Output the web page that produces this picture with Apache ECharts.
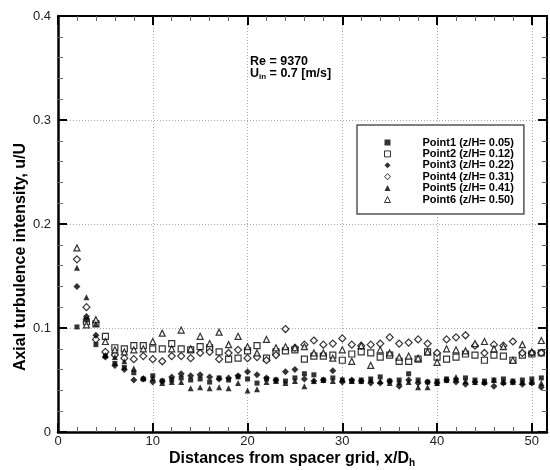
<!DOCTYPE html>
<html>
<head>
<meta charset="utf-8">
<script src="https://cdn.jsdelivr.net/npm/echarts@6/dist/echarts.min.js"></script>
<style>html,body{margin:0;padding:0;background:#fff;}#c{width:550px;height:470px;}</style>
</head>
<body>
<div id="c"></div>
<script>
const xPositions = [2,3,4,5,6,7,8,9,10,11,12,13,14,15,16,17,18,19,20,21,22,23,24,25,26,27,28,29,30,31,32,33,34,35,36,37,38,39,40,41,42,43,44,45,46,47,48,49,50,51];

const point1 = [0.101,0.108,0.084,0.073,0.066,0.062,0.057,0.051,0.054,0.049,0.050,0.052,0.050,0.051,0.048,0.052,0.050,0.053,0.051,0.047,0.051,0.050,0.049,0.052,0.056,0.055,0.050,0.052,0.050,0.049,0.050,0.051,0.053,0.049,0.050,0.056,0.050,0.048,0.049,0.051,0.050,0.052,0.050,0.049,0.050,0.051,0.049,0.050,0.051,0.052];
const point2 = [null,0.106,0.104,0.092,0.081,0.080,0.083,0.083,0.080,0.080,0.085,0.080,0.079,0.082,0.081,0.077,0.070,0.071,0.078,0.083,0.071,0.077,0.078,0.079,0.070,0.073,0.073,0.074,0.069,0.075,0.077,0.076,0.072,0.074,0.068,0.068,0.070,0.077,0.072,0.070,0.072,0.075,0.074,0.069,0.074,0.073,0.069,0.074,0.075,0.076];
const point3 = [0.140,0.111,0.093,0.072,0.064,0.060,0.050,0.051,0.048,0.049,0.053,0.056,0.054,0.055,0.053,0.051,0.052,0.054,0.058,0.055,0.052,0.050,0.058,0.060,0.051,0.049,0.050,0.059,0.048,0.050,0.049,0.047,0.047,0.049,0.044,0.050,0.047,0.048,0.047,0.050,0.048,0.046,0.048,0.047,0.044,0.047,0.048,0.046,0.047,0.043];
const point4 = [0.166,0.120,0.089,0.077,0.074,0.071,0.070,0.073,0.070,0.068,0.073,0.073,0.071,0.076,0.077,0.070,0.076,0.079,0.071,0.072,0.069,0.074,0.099,0.081,0.084,0.088,0.084,0.085,0.090,0.084,0.083,0.084,0.085,0.091,0.085,0.086,0.089,0.085,0.076,0.089,0.091,0.093,0.083,0.076,0.084,0.083,0.087,0.076,0.076,0.076];
const point5 = [0.158,0.1295,0.104,0.074,0.072,0.068,0.061,0.052,0.052,0.047,0.048,0.048,0.042,0.043,0.042,0.043,0.042,0.047,0.040,0.041,0.048,0.049,0.047,0.049,0.044,0.049,0.050,0.049,0.051,0.049,0.049,0.050,0.049,0.047,0.048,0.048,0.043,0.043,0.047,0.050,0.053,0.049,0.048,0.048,0.050,0.048,0.048,0.048,0.048,0.047];
const point6 = [0.177,0.103,0.108,0.087,0.079,0.077,0.079,0.080,0.087,0.095,0.080,0.098,0.080,0.092,0.085,0.096,0.084,0.092,0.082,0.076,0.089,0.081,0.082,0.081,0.082,0.076,0.076,0.071,0.079,0.068,0.083,0.064,0.079,0.076,0.072,0.073,0.071,0.077,0.067,0.080,0.079,0.078,0.085,0.087,0.080,0.082,0.069,0.084,0.077,0.088];

const seriesNames = ['Point1 (z/H= 0.05)','Point2 (z/H= 0.12)','Point3 (z/H= 0.22)','Point4 (z/H= 0.31)','Point5 (z/H= 0.41)','Point6 (z/H= 0.50)'];
const seriesValues = [point1, point2, point3, point4, point5, point6];
const symbols = ['rect','rect','diamond','diamond','triangle','triangle'];
const filled = [true,false,true,false,true,false];
const sizes = [5,6,7,7,6,6];

const xTicks = [0,10,20,30,40,50];
const yTicks = [0,0.1,0.2,0.3,0.4];

const FONT = "'Liberation Sans', Arial, sans-serif";

const series = seriesValues.map((vals, i) => ({
  type: 'scatter',
  name: seriesNames[i],
  symbol: symbols[i],
  symbolSize: sizes[i],
  data: vals.map((v, k) => [xPositions[k], v]).filter(p => p[1] !== null),
  itemStyle: filled[i] ? {color: '#000', borderWidth: 0} : {color: '#fff', borderColor: '#000', borderWidth: 1.2},
  emphasis: {disabled: true},
  z: filled[i] ? 4 : 3
}));

const baseTick = {show: true, inside: true, length: 9, lineStyle: {color: '#000', width: 2}};
const minor = {show: true, splitNumber: 5, length: 5, lineStyle: {color: '#666', width: 1}};

const chart = echarts.init(document.getElementById('c'), null, {renderer: 'canvas'});
chart.setOption({
  animation: false,
  backgroundColor: '#fff',
  grid: {left: 58, right: 1, top: 16, bottom: 38, containLabel: false},
  xAxis: [{
    type: 'value', min: 0, max: 51.6, interval: 10, position: 'bottom',
    axisLine: {show: true, onZero: false, lineStyle: {color: '#000', width: 2.5}},
    axisTick: baseTick, minorTick: minor,
    axisLabel: {show: true, margin: 3, fontFamily: FONT, fontSize: 13, color: '#222',
      formatter: v => (xTicks.indexOf(v) >= 0 ? String(v) : '')},
    splitLine: {show: true, lineStyle: {color: '#aaa', type: [1, 2], width: 1}}
  }, {
    type: 'value', min: 0, max: 51.6, interval: 10, position: 'top',
    axisLine: {show: true, onZero: false, lineStyle: {color: '#000', width: 2}},
    axisTick: baseTick, minorTick: minor,
    axisLabel: {show: false}, splitLine: {show: false}
  }],
  yAxis: [{
    type: 'value', min: 0, max: 0.4, interval: 0.1, position: 'left',
    axisLine: {show: true, onZero: false, lineStyle: {color: '#000', width: 2.5}},
    axisTick: baseTick, minorTick: minor,
    axisLabel: {show: true, margin: 7, fontFamily: FONT, fontSize: 13, color: '#222',
      formatter: v => {const t = yTicks.find(y => Math.abs(y - v) < 1e-9); return t === undefined ? '' : String(t);}},
    splitLine: {show: true, lineStyle: {color: '#aaa', type: [1, 2], width: 1}}
  }, {
    type: 'value', min: 0, max: 0.4, interval: 0.1, position: 'right',
    axisLine: {show: true, onZero: false, lineStyle: {color: '#000', width: 2}},
    axisTick: baseTick, minorTick: minor,
    axisLabel: {show: false}, splitLine: {show: false}
  }],
  legend: {
    show: true, orient: 'vertical', left: 357, top: 125,
    padding: [12, 10, 9, 27],
    itemWidth: 6, itemHeight: 6, itemGap: 0.4,
    itemStyle: {borderWidth: 1},
    borderColor: '#555', borderWidth: 1.5, backgroundColor: '#fff',
    textStyle: {fontFamily: FONT, fontSize: 11, fontWeight: 'bold', color: '#000', lineHeight: 11, padding: [0,0,0,27]},
    data: seriesNames,
    selectedMode: false
  },
  graphic: [
    {type: 'text', left: 250, top: 55, style: {text: 'Re = 9370', font: "bold 12.5px " + FONT, fill: '#000'}},
    {type: 'text', left: 250, top: 67, style: {text: 'U{s|in} = 0.7 [m/s]', font: "bold 12.5px " + FONT, fill: '#000',
      rich: {s: {fontSize: 8, fontWeight: 'bold', fontFamily: FONT, verticalAlign: 'bottom', padding: [6,0,0,0]}}}},
    {type: 'text', x: 292, y: 459, style: {text: 'Distances from spacer grid, x/D{s|h}', font: "bold 16px " + FONT, fill: '#000', align: 'center', verticalAlign: 'middle',
      rich: {s: {fontSize: 10, fontWeight: 'bold', fontFamily: FONT, padding: [9,0,0,0]}}}},
    {type: 'text', x: 21, y: 257, rotation: Math.PI / 2, style: {text: 'Axial turbulence intensity, u/U', font: "bold 16px " + FONT, fill: '#000', align: 'center', verticalAlign: 'middle'}}
  ],
  series: series
});
</script>
</body>
</html>
